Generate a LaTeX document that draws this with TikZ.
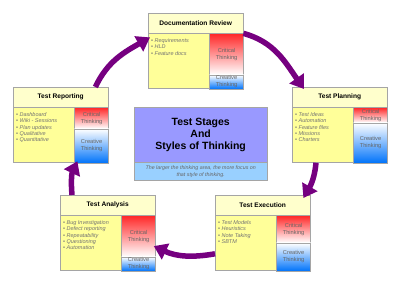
\documentclass[tikz,border=0pt]{standalone}
\usepackage{fontspec}
\setmainfont{Liberation Sans}
\usetikzlibrary{arrows.meta}
\definecolor{hdrcol}{RGB}{255,255,204}
\definecolor{lstcol}{RGB}{255,255,153}
\definecolor{edgecol}{RGB}{165,165,165}
\definecolor{critcol}{RGB}{255,40,40}
\definecolor{creacol}{RGB}{0,115,250}
\definecolor{flowcol}{RGB}{118,0,128}
\definecolor{ttlcol}{RGB}{153,153,255}
\definecolor{notecol}{RGB}{153,208,255}
\tikzset{
  hdr/.style={draw=edgecol,fill=hdrcol,minimum width=95pt,minimum height=20pt,inner sep=0pt,
    font=\fontsize{6.6}{8}\selectfont\bfseries},
  lst/.style={draw=edgecol,fill=lstcol,inner xsep=3pt,inner ysep=0pt,text=black!55,
    font=\fontsize{5.5}{6.3}\selectfont\itshape},
  crit/.style={draw=edgecol,top color=critcol,bottom color=white,minimum width=34pt,inner sep=0pt,
    align=center,text=black!60,font=\fontsize{5.7}{7}\selectfont},
  crea/.style={draw=edgecol,top color=white,bottom color=creacol,minimum width=34pt,inner sep=0pt,
    align=center,text=black!60,font=\fontsize{5.7}{7}\selectfont},
  ttl/.style={draw=edgecol,fill=ttlcol,minimum width=133pt,minimum height=55pt,inner sep=0pt,
    align=center,font=\fontsize{10.5}{12}\selectfont\bfseries},
  note/.style={draw=edgecol,fill=notecol,minimum width=133pt,minimum height=18pt,inner sep=0pt,
    align=center,text=black!60,font=\fontsize{5.3}{6.5}\selectfont\itshape},
  flow/.style={line width=5.5pt,draw=flowcol,-{Triangle[width=17pt,length=13pt]}},
}
\newcommand{\stage}[6]{%
  \node[hdr,anchor=north west] (#1h) at (#2,#3) {#5};
  \node[lst,anchor=north west] (#1l) at (#1h.south west)
    {\parbox[c][55pt][t]{55pt}{\raggedright\vspace*{5pt}#6}};
  \node[crit,anchor=north west,minimum height=#4pt] (#1c) at (#1l.north east) {Critical\\Thinking};
  \node[crea,anchor=north west,minimum height=55pt-#4pt] (#1v) at (#1c.south west) {Creative\\Thinking};
}
\newcommand{\itm}{\textbullet\ }

\begin{document}
\begin{tikzpicture}[x=1pt,y=1pt]
  \useasboundingbox (0,0) rectangle (400,283);
  \stage{dr}{148}{270}{41}{Documentation Review}
    {\itm Requirements\\ \itm HLD\\ \itm Feature docs}
  \stage{tp}{292}{196}{15}{Test Planning}
    {\itm Test Ideas\\ \itm Automation\\ \itm Feature files\\ \itm Missions\\ \itm Charters}
  \stage{te}{215}{88}{27}{Test Execution}
    {\itm Test Models\\ \itm Heuristics\\ \itm Note Taking\\ \itm SBTM}
  \stage{ta}{60}{88}{41}{Test Analysis}
    {\itm Bug Investigation\\ \itm Defect reporting\\ \itm Repeatability\\ \itm Questioning\\ \itm Automation}
  \stage{tr}{13}{196}{21}{Test Reporting}
    {\itm Dashboard\\ \itm Wiki - Sessions\\ \itm Plan updates\\ \itm Qualitative\\ \itm Quantitative}
  \node[ttl,anchor=north west] (ttl) at (134,176) {Test Stages\\And\\Styles of Thinking};
  \node[note,anchor=north] (note) at (ttl.south)
    {The larger the thinking area, the more focus on\\that style of thinking.};
  \draw[flow] (drh.south east) to[out=-15,in=125] ([xshift=12pt,yshift=-2pt]tph.north west);
  \draw[flow] ([xshift=24pt]tpl.south west) to[out=-95,in=60] ([xshift=-7pt,yshift=-3pt]teh.north east);
  \draw[flow] ([yshift=17pt]tel.south west) to[out=190,in=-25] ([xshift=-2pt,yshift=-10pt]tac.east);
  \draw[flow] ([xshift=12pt]tah.north west) to[out=95,in=-115] ([xshift=3pt,yshift=2pt]trv.south west);
  \draw[flow] ([xshift=-13pt]trh.north east) to[out=65,in=-150] ([xshift=2pt,yshift=-4pt]drl.north west);
\end{tikzpicture}
\end{document}
